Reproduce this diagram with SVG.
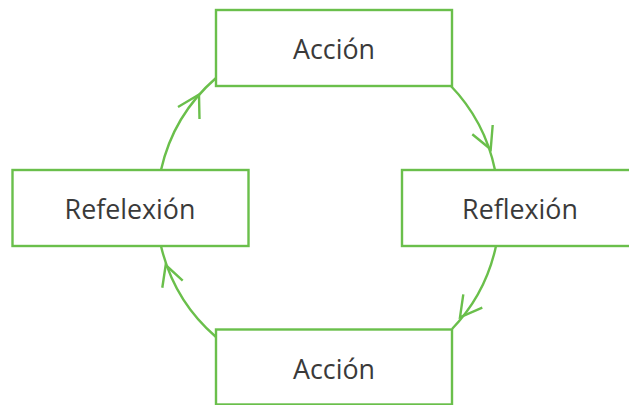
<svg xmlns="http://www.w3.org/2000/svg" width="629" height="405" viewBox="0 0 629 405">
<style>
.box{fill:#ffffff;stroke:#6abf4b;stroke-width:2.4}
.lbl{font-family:"Open Sans","Liberation Sans",sans-serif;font-size:26.8px;fill:#3a3a3a;text-anchor:middle}
.arc{fill:none;stroke:#6abf4b;stroke-width:2.4}
.head{fill:none;stroke:#6abf4b;stroke-width:2.4;stroke-linejoin:miter}
</style>
<rect width="629" height="405" fill="#ffffff"/>
<g id="connectors">
<path class="arc" d="M161,170 A172,172 0 0 1 216,78"/>
<polyline class="head" points="178,107 199,94.5 199.5,119"/>
<path class="arc" d="M450,85 A172,172 0 0 1 495,170"/>
<polyline class="head" points="492.7,125 490.7,149.3 472.3,134.3"/>
<path class="arc" d="M496,246 A172,172 0 0 1 452,329"/>
<polyline class="head" points="463.3,294.3 460,317.3 482.3,307.7"/>
<path class="arc" d="M216,337 A172,172 0 0 1 161,246"/>
<polyline class="head" points="162.3,287.7 165.7,265 182.7,280.7"/>
</g>
<g id="node-accion-top">
<rect class="box" x="216" y="10" width="236" height="76"/>
<text class="lbl" x="334" y="59.3">Acción</text>
</g>
<g id="node-reflexion">
<rect class="box" x="402" y="170" width="236" height="76"/>
<text class="lbl" x="520" y="219.3">Reflexión</text>
</g>
<g id="node-accion-bottom">
<rect class="box" x="216" y="329.5" width="236" height="75"/>
<text class="lbl" x="334" y="378.8">Acción</text>
</g>
<g id="node-refelexion">
<rect class="box" x="12.5" y="170" width="236" height="76"/>
<text class="lbl" x="130" y="219.3">Refelexión</text>
</g>
</svg>
